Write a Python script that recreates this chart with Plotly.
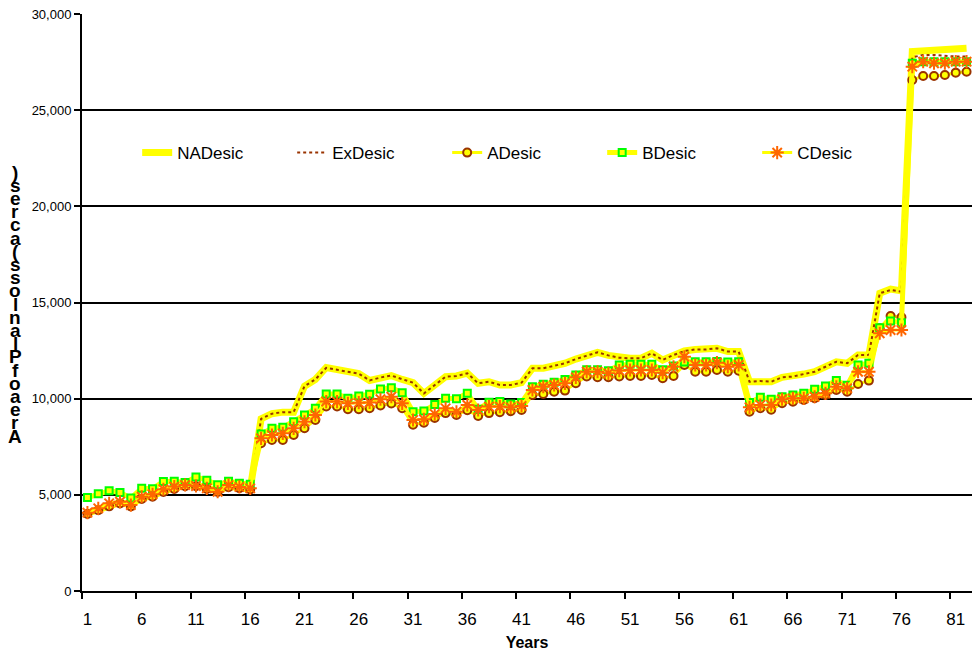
import plotly.graph_objects as go

years = list(range(1, 83))

na_desic = [4050, 4250, 4450, 4600, 4480, 4850, 4950, 5200, 5350, 5500,
            5500, 5350, 5200, 5450, 5400, 5300, 8950, 9220, 9300, 9300,
            10650, 11000, 11620, 11500, 11380, 11300, 10950, 11100, 11200, 11000,
            10830, 10270, 10710, 11140, 11180, 11330, 10800, 10880, 10710, 10710,
            10830, 11580, 11580, 11700, 11840, 12060, 12220, 12410, 12250, 12130,
            12100, 12100, 12360, 12010, 12270, 12480, 12560, 12560, 12620, 12450,
            12450, 10880, 10920, 10880, 11110, 11150, 11280, 11400, 11660, 11920,
            11840, 12270, 12270, 15480, 15700, 15600, 28050, 28080, 28100, 28150,
            28180, 28220]

ex_desic = [4100, 4250, 4450, 4600, 4500, 4850, 4950, 5200, 5350, 5550,
            5500, 5350, 5200, 5450, 5400, 5300, 8950, 9220, 9300, 9300,
            10650, 11000, 11600, 11500, 11380, 11300, 10950, 11100, 11200, 11000,
            10830, 10270, 10710, 11140, 11180, 11320, 10800, 10880, 10710, 10710,
            10830, 11580, 11580, 11700, 11840, 12060, 12220, 12410, 12250, 12130,
            12100, 12100, 12360, 12010, 12270, 12480, 12560, 12560, 12620, 12450,
            12450, 10880, 10920, 10880, 11110, 11150, 11280, 11400, 11660, 11920,
            11840, 12270, 12270, 15480, 15650, 15560, 27750, 27870, 27870, 27820,
            27790, 27790]

a_desic = [4000, 4200, 4400, 4550, 4400, 4780, 4900, 5150, 5300, 5450,
           5450, 5300, 5150, 5400, 5350, 5280, 7680, 7850, 7850, 8110,
           8460, 8890, 9590, 9590, 9450, 9450, 9500, 9650, 9750, 9500,
           8650, 8750, 9000, 9250, 9150, 9400, 9100, 9250, 9300, 9350,
           9410, 10190, 10240, 10360, 10420, 10800, 11150, 11110, 11110, 11150,
           11180, 11180, 11230, 11060, 11180, 11750, 11400, 11400, 11490, 11400,
           11450, 9320, 9500, 9420, 9760, 9840, 9930, 10020, 10190, 10450,
           10360, 10760, 10940, 13660, 14300, 14230, 26570, 26780, 26780, 26830,
           26950, 27000]

b_desic = [4860, 5060, 5210, 5120, 4830, 5340, 5320, 5690, 5700, 5640,
           5930, 5760, 5520, 5700, 5600, 5550, 8160, 8460, 8510, 8800,
           9150, 9500, 10240, 10240, 10020, 10140, 10230, 10500, 10570, 10310,
           9320, 9360, 9700, 10020, 10000, 10280, 9450, 9810, 9850, 9720,
           9800, 10620, 10750, 10850, 11000, 11230, 11500, 11500, 11450, 11750,
           11790, 11790, 11790, 11500, 11700, 11900, 11920, 11920, 11930, 11900,
           11920, 9800, 10070, 9970, 10100, 10190, 10280, 10490, 10660, 10940,
           10700, 11750, 11840, 13690, 14040, 13950, 27440, 27520, 27520, 27520,
           27520, 27520]

c_desic = [4070, 4300, 4560, 4640, 4470, 4900, 5030, 5290, 5430, 5510,
           5460, 5340, 5160, 5510, 5410, 5340, 7940, 8110, 8200, 8460,
           8800, 9150, 9850, 9850, 9760, 9790, 9800, 9970, 10100, 9760,
           8890, 8930, 9200, 9500, 9320, 9670, 9410, 9590, 9590, 9550,
           9620, 10450, 10620, 10710, 10800, 11110, 11400, 11400, 11320, 11460,
           11490, 11490, 11490, 11350, 11660, 12180, 11750, 11750, 11870, 11660,
           11750, 9550, 9670, 9670, 9970, 10020, 10020, 10100, 10280, 10620,
           10540, 11400, 11400, 13400, 13570, 13570, 27260, 27520, 27440, 27440,
           27520, 27520]

x_tick_vals = list(range(1, 82, 5))
x_tick_text = [str(v) for v in x_tick_vals]
y_tick_vals = [0, 5000, 10000, 15000, 20000, 25000, 30000]
y_tick_text = ["0", "5,000", "10,000", "15,000", "20,000", "25,000", "30,000"]
y_title = "Area of Planloss (acres)"
x_title = "Years"

YELLOW = "#FFFF00"
BROWN = "#993300"
ORANGE = "#FF6600"
GREEN = "#00FF00"

fig = go.Figure()
fig.add_trace(go.Scatter(x=years, y=na_desic, name="NADesic", mode="lines",
                         line=dict(color=YELLOW, width=7)))
fig.add_trace(go.Scatter(x=years, y=ex_desic, name="ExDesic", mode="lines",
                         line=dict(color=BROWN, width=2, dash="dot")))
fig.add_trace(go.Scatter(x=years, y=a_desic, name="ADesic", mode="lines+markers",
                         line=dict(color=YELLOW, width=3),
                         marker=dict(symbol="circle", size=8, color=YELLOW,
                                     line=dict(color=BROWN, width=2))))
fig.add_trace(go.Scatter(x=years, y=b_desic, name="BDesic", mode="lines+markers",
                         line=dict(color=YELLOW, width=5),
                         marker=dict(symbol="square", size=7, color=YELLOW,
                                     line=dict(color=GREEN, width=2))))
fig.add_trace(go.Scatter(x=years, y=c_desic, name="CDesic", mode="lines+markers",
                         line=dict(color=YELLOW, width=3),
                         marker=dict(symbol="asterisk-open", size=11, color=ORANGE,
                                     line=dict(color=ORANGE, width=2))))

# stacked y-axis title, one character per line (reversed, as in the reference)
chars = [c for c in y_title if c != " "]
PLOT_TOP, PLOT_BOTTOM, PLOT_LEFT, PLOT_W = 14, 591, 82, 890
for i, ch in enumerate(chars):
    ypx = 436 - i * 13.2
    fig.add_annotation(text=ch, xref="paper", yref="paper",
                       x=(15 - PLOT_LEFT) / PLOT_W,
                       y=(PLOT_BOTTOM - ypx) / (PLOT_BOTTOM - PLOT_TOP),
                       showarrow=False, xanchor="center", yanchor="middle",
                       font=dict(family="Arial, Liberation Sans", size=19, color="black",
                                 weight="bold"))

fig.update_layout(
    width=974, height=661,
    margin=dict(l=82, r=2, t=14, b=70, autoexpand=False),
    paper_bgcolor="white", plot_bgcolor="white",
    font=dict(family="Arial, Liberation Sans", color="black"),
    showlegend=True,
    legend=dict(orientation="h", x=0.062, y=0.759, xanchor="left", yanchor="middle",
                bgcolor="rgba(0,0,0,0)", font=dict(size=17),
                entrywidth=110, entrywidthmode="pixels", traceorder="normal"),
    xaxis=dict(range=[0.5, 82.5], tickmode="array", tickvals=x_tick_vals,
               ticktext=x_tick_text, ticks="", showgrid=False, zeroline=False,
               showline=True, linecolor="black", linewidth=2, automargin=False,
               tickfont=dict(size=17), ticklabelstandoff=12,
               minor=dict(tickmode="linear", tick0=0.5, dtick=5, ticks="outside",
                          ticklen=6, tickwidth=2, tickcolor="black", showgrid=False),
               title=dict(text="<b>" + x_title + "</b>", font=dict(size=16), standoff=8)),
    yaxis=dict(range=[0, 30000], tickmode="array", tickvals=y_tick_vals,
               ticktext=y_tick_text, ticks="outside", ticklen=6, tickwidth=2,
               tickcolor="black", showgrid=True, gridcolor="black", gridwidth=2,
               zeroline=False, showline=True, linecolor="black", linewidth=2,
               automargin=False, tickfont=dict(size=13)),
)

fig.write_html("out.html", config={"displayModeBar": False},
               post_script="document.body.style.margin='0';document.body.style.overflow='hidden';")
